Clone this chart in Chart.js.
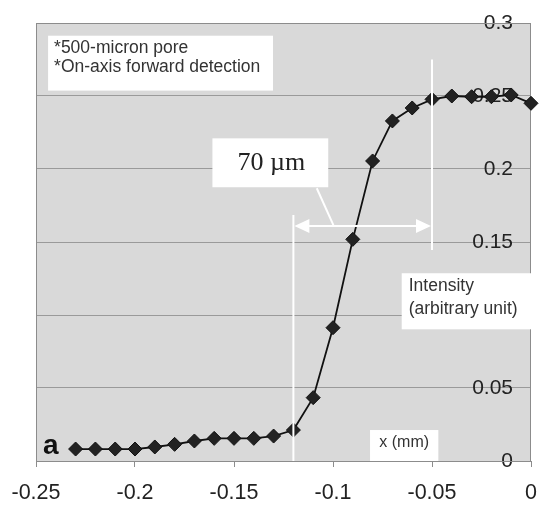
<!DOCTYPE html>
<html>
<head>
<meta charset="utf-8">
<script src="https://cdn.jsdelivr.net/npm/chart.js@4.4.0/dist/chart.umd.min.js"></script>
<style>
  html, body { margin: 0; padding: 0; background: #fff; }
  #wrap { width: 540px; height: 507px; }
</style>
</head>
<body>
<div id="wrap"><canvas id="chart" width="540" height="507"></canvas></div>
<script>
// positions (mm) and measured intensity
const xPositions = [-0.23, -0.22, -0.21, -0.20, -0.19, -0.18, -0.17, -0.16, -0.15, -0.14, -0.13, -0.12,
                    -0.11, -0.10, -0.09, -0.08, -0.07, -0.06, -0.05, -0.04, -0.03, -0.02, -0.01, 0];
const intensity = [0.0082, 0.0082, 0.0082, 0.0082, 0.0096, 0.0114, 0.0137, 0.0155, 0.0155, 0.0155, 0.0171, 0.0212,
                   0.0434, 0.0913, 0.1518, 0.2055, 0.2329, 0.2418, 0.2477, 0.2500, 0.2495, 0.2495, 0.2507, 0.2450];
const xTicks = [-0.25, -0.2, -0.15, -0.1, -0.05, 0];
const yTicks = [0, 0.05, 0.1, 0.15, 0.2, 0.25, 0.3];

const infoLines = ['*500-micron pore', '*On-axis forward detection'];
const widthLabel = '70 \u00b5m';
const yTitleLines = ['Intensity', '(arbitrary unit)'];
const xTitle = 'x (mm)';
const panelLetter = 'a';

const fmt = v => String(Math.round(v * 1000) / 1000);

// plot background + frame
const plotArea = {
    id: 'plotArea',
    beforeDraw(chart) {
        const { ctx, chartArea: a } = chart;
        ctx.save();
        ctx.fillStyle = '#d9d9d9';
        ctx.fillRect(a.left, a.top, a.right - a.left, a.bottom - a.top);
        ctx.restore();
    },
    beforeDatasetsDraw(chart) {
        const { ctx, chartArea: a } = chart;
        ctx.save();
        ctx.strokeStyle = '#8c8c8c';
        ctx.lineWidth = 1;
        ctx.strokeRect(a.left + 0.5, a.top + 0.5, a.right - a.left - 1, a.bottom - a.top);
        ctx.restore();
    }
};

// white markers, arrow and text boxes drawn on top, in data units
const overlay = {
    id: 'overlay',
    afterDatasetsDraw(chart) {
        const { ctx, scales: { x, y } } = chart;
        const px = v => x.getPixelForValue(v);
        const py = v => y.getPixelForValue(v);
        ctx.save();
        ctx.strokeStyle = '#fff';
        ctx.fillStyle = '#fff';
        ctx.lineWidth = 2;

        const line = (x0, y0, x1, y1) => {
            ctx.beginPath();
            ctx.moveTo(x0, y0);
            ctx.lineTo(x1, y1);
            ctx.stroke();
        };
        line(px(-0.12), py(0), px(-0.12), py(0.1685));
        line(px(-0.05), py(0.1445), px(-0.05), py(0.275));

        // double arrow
        const ay = py(0.161), ax0 = px(-0.12) + 1, ax1 = px(-0.05) - 1;
        line(ax0 + 10, ay, ax1 - 10, ay);
        ctx.beginPath();
        ctx.moveTo(ax0, ay); ctx.lineTo(ax0 + 15, ay - 7); ctx.lineTo(ax0 + 15, ay + 7); ctx.closePath();
        ctx.fill();
        ctx.beginPath();
        ctx.moveTo(ax1, ay); ctx.lineTo(ax1 - 15, ay - 7); ctx.lineTo(ax1 - 15, ay + 7); ctx.closePath();
        ctx.fill();

        // leader from label to arrow
        line(px(-0.1082), py(0.1868), px(-0.0998), py(0.1616));

        const box = (x0, y0, x1, y1) => {
            ctx.fillStyle = '#fff';
            ctx.fillRect(px(x0), py(y0), px(x1) - px(x0), py(y1) - py(y0));
        };

        // 70 um label
        box(-0.1609, 0.221, -0.1024, 0.1875);
        ctx.fillStyle = '#222';
        ctx.font = '26px "Liberation Serif"';
        ctx.textAlign = 'center';
        ctx.textBaseline = 'middle';
        ctx.fillText(widthLabel, (px(-0.1609) + px(-0.1024)) / 2 + 1, py(0.2042));

        // info box
        box(-0.2439, 0.2913, -0.1303, 0.2537);
        ctx.fillStyle = '#333';
        ctx.font = '17.5px "Liberation Sans"';
        ctx.textAlign = 'left';
        infoLines.forEach((t, i) => ctx.fillText(t, px(-0.2439) + 6, py(0.2913) + 12 + i * 19));

        // y title box
        box(-0.0653, 0.1286, 0, 0.0902);
        ctx.fillStyle = '#333';
        yTitleLines.forEach((t, i) => ctx.fillText(t, px(-0.0653) + 7, py(0.1286) + 13 + i * 23));

        // x title box
        box(-0.0813, 0.0212, -0.0468, 0);
        ctx.fillStyle = '#333';
        ctx.font = '16px "Liberation Sans"';
        ctx.textAlign = 'center';
        ctx.fillText(xTitle, (px(-0.0813) + px(-0.0468)) / 2, py(0.0212) + 13);

        // panel letter
        ctx.fillStyle = '#111';
        ctx.font = 'bold 28px "Liberation Sans"';
        ctx.fillText(panelLetter, px(-0.2425), py(0.0095) - 1);
        ctx.restore();
    }
};

new Chart(document.getElementById('chart'), {
    type: 'line',
    data: {
        datasets: [{
            data: xPositions.map((v, i) => ({ x: v, y: intensity[i] })),
            borderColor: '#111',
            borderWidth: 1.8,
            pointStyle: 'rectRot',
            pointRadius: 7,
            pointBackgroundColor: '#222',
            pointBorderColor: '#111',
            pointBorderWidth: 1,
            tension: 0,
            clip: false
        }]
    },
    options: {
        responsive: false,
        animation: false,
        events: [],
        layout: { padding: { top: 23, right: 9, left: 36, bottom: 2 } },
        plugins: { legend: { display: false }, tooltip: { enabled: false } },
        scales: {
            x: {
                type: 'linear',
                min: -0.25,
                max: 0,
                afterBuildTicks: axis => { axis.ticks = xTicks.map(v => ({ value: v })); },
                afterFit: axis => {
                    axis.height = 44;
                    axis.paddingLeft = 0;
                    axis.paddingRight = 0;
                },
                ticks: {
                    font: { family: 'Liberation Sans', size: 21.5 },
                    color: '#222',
                    padding: 13,
                    maxRotation: 0,
                    callback: v => fmt(v)
                },
                grid: { drawOnChartArea: false, tickLength: 6, color: '#8c8c8c' },
                border: { display: false }
            },
            y: {
                position: 'right',
                min: 0,
                max: 0.3,
                afterBuildTicks: axis => { axis.ticks = yTicks.map(v => ({ value: v })); },
                afterFit: axis => {
                    axis.width = 0;
                    axis.paddingTop = 0;
                    axis.paddingBottom = 0;
                },
                ticks: {
                    mirror: true,
                    padding: -18,
                    font: { family: 'Liberation Sans', size: 21 },
                    color: '#222',
                    callback: v => fmt(v)
                },
                grid: { drawTicks: false, color: '#9a9a9a', lineWidth: 1 },
                border: { display: false }
            }
        }
    },
    plugins: [plotArea, overlay]
});
</script>
</body>
</html>
